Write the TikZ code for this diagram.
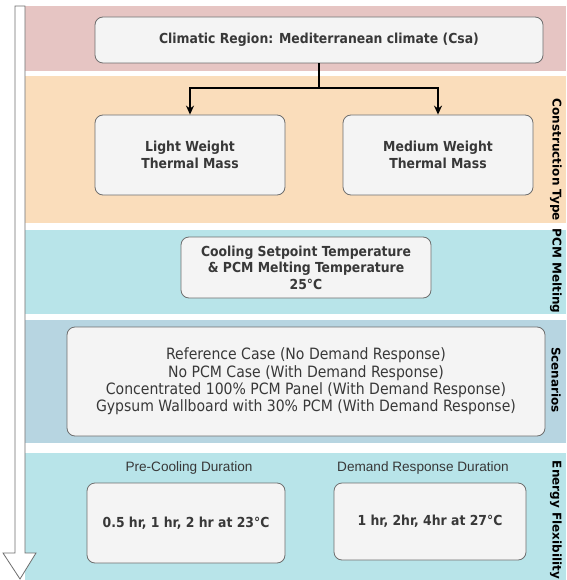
\documentclass[tikz,border=0pt]{standalone}
\usepackage{fontspec}
\setmainfont{DejaVu Sans Condensed}
\newfontfamily\labelfont{Liberation Sans}
\newfontfamily\sidefont{DejaVu Sans}
\usetikzlibrary{arrows.meta,positioning}

\definecolor{bandpink}{HTML}{E6C5C3}
\definecolor{bandpeach}{HTML}{FADDBB}
\definecolor{bandcyan}{HTML}{B8E4E9}
\definecolor{bandblue}{HTML}{B7D5E1}
\definecolor{boxfill}{HTML}{F4F4F4}
\definecolor{boxline}{HTML}{6E6E6E}
\definecolor{boxtext}{HTML}{383838}

\tikzset{
  stagebox/.style={draw=boxline, fill=boxfill, rounded corners=8pt, line width=0.8pt,
    align=center, text=boxtext, font=\bfseries\fontsize{13.8}{16.4}\selectfont},
  sidelabel/.style={rotate=-90, font=\sidefont\bfseries\fontsize{12}{14}\selectfont},
  durlabel/.style={text=boxtext, font=\labelfont\fontsize{13.6}{16}\selectfont},
  flow/.style={line width=1.4pt, -{Stealth[length=9pt,width=8pt]}}
}

\begin{document}
\begin{tikzpicture}[x=1pt, y=-1pt]
        \useasboundingbox (0,0) rectangle (566,580);

        % Bandas de fundo
        \fill[bandpink]  (25,6)   rectangle (566,71);
        \fill[bandpeach] (25,76)  rectangle (566,223);
        \fill[bandcyan]  (25,230) rectangle (566,314);
        \fill[bandblue]  (25,320) rectangle (566,443);
        \fill[bandcyan]  (25,453) rectangle (566,580);

        % Seta vertical
        \draw[boxline, fill=white, line width=0.8pt] (15,6) -- (25,6) -- (25,553) -- (36,553)
          -- (20,579) -- (3,553) -- (15,553) -- cycle;

        % Caixas
        \node[stagebox, minimum width=448pt, minimum height=46pt] (climate) at (319,40)
          {Climatic Region: Mediterranean climate (Csa)};
        \node[stagebox, minimum width=190pt, minimum height=80pt] (light) at (190,155)
          {Light Weight\\Thermal Mass};
        \node[stagebox, minimum width=190pt, minimum height=80pt] (medium) at (438,155)
          {Medium Weight\\Thermal Mass};
        \node[stagebox, minimum width=250pt, minimum height=61pt] (melting) at (306,267.5)
          {Cooling Setpoint Temperature\\\& PCM Melting Temperature\\25\textdegree C};
        \node[stagebox, font=\fontsize{15.6}{17.4}\selectfont, minimum width=478pt, minimum height=109pt] (scen) at (306,381.5)
          {Reference Case (No Demand Response)\\No PCM Case (With Demand Response)\\Concentrated 100\% PCM Panel (With Demand Response)\\Gypsum Wallboard with 30\% PCM (With Demand Response)};
        \node[stagebox, minimum width=198pt, minimum height=80pt] (precool) at (186,523)
          {0.5 hr, 1 hr, 2 hr at 23\textdegree C};
        \node[stagebox, minimum width=192pt, minimum height=77pt] (dr) at (430,521.5)
          {1 hr, 2hr, 4hr at 27\textdegree C};

        % Titulos das duracoes
        \node[durlabel] (prelabel) at (189,468) {Pre-Cooling Duration};
        \node[durlabel] (drlabel) at (423,468) {Demand Response Duration};

        % Rotulos laterais
        \node[sidelabel] (lconst) at (556,160) {Construction Type};
        \node[sidelabel] (lmelt) at (556,271) {PCM Melting};
        \node[sidelabel] (lscen) at (556,380) {Scenarios};
        \node[sidelabel] (lflex) at (556,520) {Energy Flexibility};

        % Ligacoes
        \coordinate (split) at (319,88);
        \draw[line width=1.4pt] (climate.south) -- (split);
        \draw[flow] (split) -| (light.north);
        \draw[flow] (split) -| (medium.north);
      \end{tikzpicture}
\end{document}
